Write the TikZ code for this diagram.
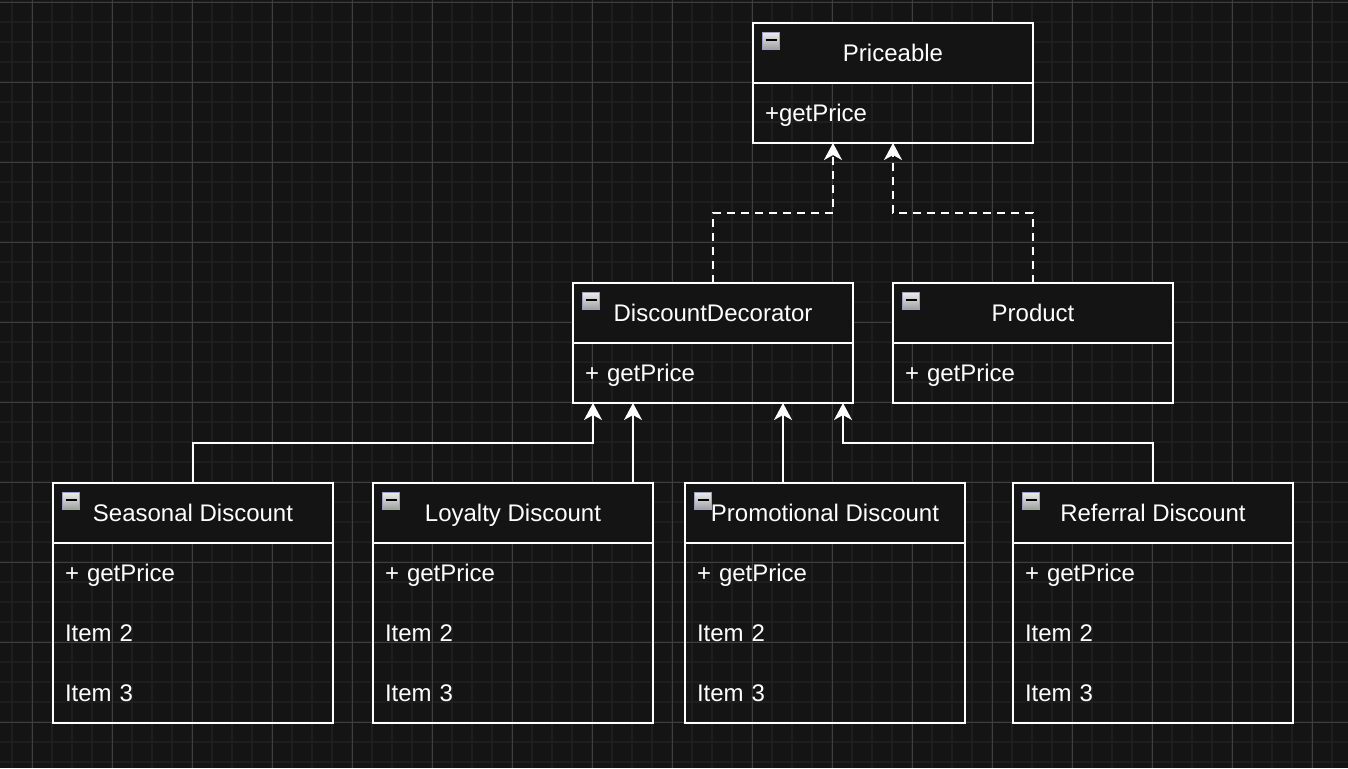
\documentclass[tikz,border=0pt]{standalone}
\usepackage{fontspec}
\setmainfont{Liberation Sans}
\usepackage{tikz}
\usetikzlibrary{arrows.meta}

\definecolor{bg}{HTML}{141414}
\definecolor{gridminor}{HTML}{1E1E1E}
\definecolor{gridmajor}{HTML}{3E3E3E}

\tikzset{
  header/.style={draw=white, line width=1pt, fill=bg, text=white, outer sep=0pt,
    minimum width=140pt, minimum height=30pt, inner sep=0pt, text height=9pt, text depth=1pt,
    font=\fontsize{12}{14}\selectfont},
  row/.style={text=white, outer sep=0pt, minimum height=30pt, inner xsep=6pt, inner ysep=0pt,
    text width=128pt, align=left, text height=9pt, text depth=1pt, font=\fontsize{12}{14}\selectfont},
  frame/.style={draw=white, line width=1pt},
  icon/.style={draw=gray!75!blue!60!white, line width=0.6pt, top color=white!92!black,
    bottom color=white!62!black, minimum size=8.5pt, inner sep=0pt, anchor=north west,
    path picture={\draw[black, line width=1.1pt]
      ([xshift=-2.7pt,yshift=0.6pt]path picture bounding box.center) --
      ([xshift=2.7pt,yshift=0.6pt]path picture bounding box.center);}},
  inherit/.style={draw=white, line width=1pt, -{Stealth[length=8.5pt, width=9pt, inset=2.5pt]}},
  realize/.style={inherit, dash pattern=on 4pt off 3pt}
}

\newcommand{\collapsebox}[1]{\node[icon] (#1ic) at ([shift={(9,9)}]#1.north west) {};}

\begin{document}
\begin{tikzpicture}[x=0.5pt, y=-0.5pt]
\fill[bg] (0,0) rectangle (1348,768);
\useasboundingbox (0,0) rectangle (1348,768);
% grid
\foreach \x in {12,32,...,1348} \draw[gridminor, line width=1pt] (\x,0) -- (\x,768);
\foreach \y in {2,22,...,768} \draw[gridminor, line width=1pt] (0,\y) -- (1348,\y);
\foreach \x in {32,112,...,1348} \draw[gridmajor, line width=0.5pt] (\x,0) -- (\x,768);
\foreach \y in {2,82,...,768} \draw[gridmajor, line width=0.5pt] (0,\y) -- (1348,\y);

% interface
\node[row] (pri1) at (893,113) {+getPrice};
\node[header] (pri) at (893,53) {Priceable};
\draw[frame] (pri.south west) rectangle (pri1.south east);
\collapsebox{pri}

% decorator and product
\node[row] (dd1) at (713,373) {+ getPrice};
\node[header] (dd) at (713,313) {DiscountDecorator};
\draw[frame] (dd.south west) rectangle (dd1.south east);
\collapsebox{dd}
\node[row] (prod1) at (1033,373) {+ getPrice};
\node[header] (prod) at (1033,313) {Product};
\draw[frame] (prod.south west) rectangle (prod1.south east);
\collapsebox{prod}

% concrete discounts
\foreach \n/\x/\t in {sea/193/Seasonal Discount, loy/513/Loyalty Discount,
    promo/825/Promotional Discount, ref/1153/Referral Discount} {
  \node[row] (\n1) at (\x,573) {+ getPrice};
  \node[row] (\n2) at (\x,633) {Item 2};
  \node[row] (\n3) at (\x,693) {Item 3};
  \node[header] (\n) at (\x,513) {\t};
  \draw[frame] (\n.south west) rectangle (\n3.south east);
  \collapsebox{\n}
}

% connectors
\draw[realize] (dd.north) -- ++(0,-70) -| ([xshift=-30pt]pri1.south);
\draw[realize] (prod.north) -- ++(0,-70) -| (pri1.south);
\draw[inherit] (sea.north) -- ++(0,-40) -| ([xshift=-60pt]dd1.south);
\draw[inherit] ([xshift=60pt]loy.north) -- ([xshift=-40pt]dd1.south);
\draw[inherit] ([xshift=-21pt]promo.north) -- ([xshift=35pt]dd1.south);
\draw[inherit] (ref.north) -- ++(0,-40) -| ([xshift=65pt]dd1.south);
\end{tikzpicture}
\end{document}
